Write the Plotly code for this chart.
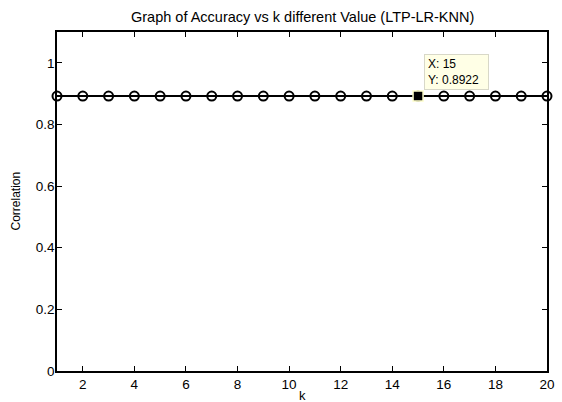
import plotly.graph_objects as go

k_values = list(range(1, 21))
accuracy = [0.8922] * 20
tip_k = [15]
tip_acc = [0.8922]
x_ticks = [2, 4, 6, 8, 10, 12, 14, 16, 18, 20]
y_ticks = [0, 0.2, 0.4, 0.6, 0.8, 1]
y_tick_labels = ["0", "0.2", "0.4", "0.6", "0.8", "1"]

FONT = "Liberation Sans, Arial, sans-serif"

fig = go.Figure()
fig.add_trace(go.Scatter(
    x=k_values, y=accuracy, mode="lines+markers",
    line=dict(color="black", width=2),
    marker=dict(symbol="circle-open", size=9, color="black", line=dict(width=2, color="black")),
    showlegend=False, hoverinfo="skip", cliponaxis=False,
))
fig.add_trace(go.Scatter(
    x=tip_k, y=tip_acc, mode="markers",
    marker=dict(symbol="square", size=10, color="black", line=dict(width=1.5, color="#ffffcc")),
    showlegend=False, hoverinfo="skip", cliponaxis=False,
))

fig.add_annotation(
    x=tip_k[0], y=tip_acc[0], xref="x", yref="y",
    text="X: 15<br>Y: 0.8922", showarrow=False, align="left",
    xanchor="left", yanchor="bottom", xshift=6, yshift=6,
    font=dict(family=FONT, size=12, color="black"),
    bgcolor="#ffffe6", bordercolor="#d8d8c8", borderwidth=1, borderpad=3,
    width=57, height=28,
)

fig.add_annotation(
    text="Graph of Accuracy vs k different Value (LTP-LR-KNN)",
    xref="paper", yref="paper", x=0.5, y=1, yshift=15.5, showarrow=False,
    font=dict(family=FONT, size=14.5, color="black"), xanchor="center", yanchor="middle",
)
fig.add_annotation(
    text="k", xref="paper", yref="paper", x=0.5, y=0, yshift=-24, showarrow=False,
    font=dict(family=FONT, size=13, color="black"), xanchor="center", yanchor="middle",
)
fig.add_annotation(
    text="Correlation", xref="paper", yref="paper", x=0, xshift=-42, y=0.5, textangle=-90,
    showarrow=False, font=dict(family=FONT, size=12, color="black"),
    xanchor="center", yanchor="middle",
)

fig.update_layout(
    width=562, height=402,
    margin=dict(l=57, r=7, t=32, b=31),
    paper_bgcolor="white", plot_bgcolor="white",
    font=dict(family=FONT, size=13.5, color="black"),
)
fig.update_xaxes(
    range=[1, 20], tickvals=x_ticks, ticktext=[str(v) for v in x_ticks],
    ticks="inside", ticklen=5, tickcolor="black", tickwidth=1,
    showline=True, linecolor="black", linewidth=1.5, mirror="ticks",
    showgrid=False, zeroline=False,
)
fig.update_yaxes(
    range=[0, 1.1], tickvals=y_ticks, ticktext=y_tick_labels,
    ticks="inside", ticklen=5, tickcolor="black", tickwidth=1,
    showline=True, linecolor="black", linewidth=1.5, mirror="ticks",
    showgrid=False, zeroline=False, ticklabelstandoff=-2,
)

# remove the browser's default 8px body margin so the figure fills the window exactly
fig.write_html(
    "out.html",
    config={"displayModeBar": False},
    post_script="document.body.style.margin='0';document.body.style.overflow='hidden';",
)
